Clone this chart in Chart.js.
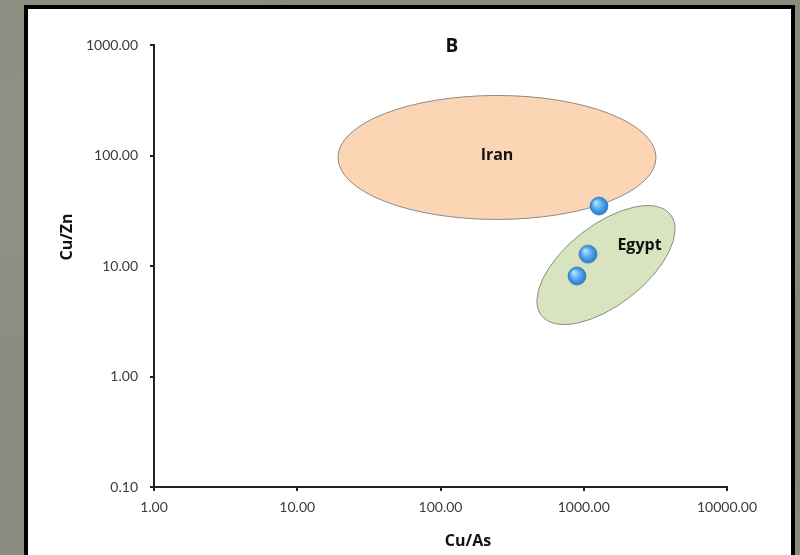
<!DOCTYPE html>
<html>
<head>
<meta charset="utf-8">
<script src="https://cdn.jsdelivr.net/npm/chart.js@4"></script>
<style>
  html, body {
    margin: 0;
    padding: 0;
    width: 800px;
    height: 555px;
    overflow: hidden;
    background: #898c7e;
  }
  .backdrop {
    position: absolute;
    left: 0;
    top: 0;
    width: 800px;
    height: 555px;
    background:
      radial-gradient(ellipse at 10% 30%, rgba(255,255,255,0.06), transparent 40%),
      radial-gradient(ellipse at 95% 70%, rgba(0,0,0,0.05), transparent 35%),
      #898c7e;
  }
  .panel {
    position: absolute;
    left: 24px;
    top: 5px;
    width: 763px;
    height: 600px;
    background: #fff;
    border: 4px solid #000;
  }
  #mychart {
    position: absolute;
    left: 0;
    top: 0;
  }
</style>
</head>
<body>
<div class="backdrop"></div>
<div class="panel"></div>
<canvas id="mychart" width="800" height="555"></canvas>
<script>
// samples: Cu/As against Cu/Zn
const cuAs = [1277, 1071, 897];
const cuZn = [34.9, 12.8, 8.12];

// decade ticks on both log axes
const xTicks = [1, 10, 100, 1000, 10000];
const yTicks = [0.1, 1, 10, 100, 1000];

// provenance fields: centre (data units), half axes in decades, tilt in degrees
const regionNames = ["Iran", "Egypt"];
const regionCentreX = [248, 1430];
const regionCentreY = [96, 10.2];
const regionHalfX = [1.11, 0.572];
const regionHalfY = [0.561, 0.362];
const regionTilt = [0, -38];
const regionLabelX = [248, 2450];
const regionLabelY = [100, 15.2];
const regionFill = ["#fcd5b5", "#d7e4bd"];

const FONT = "Lato, 'Open Sans', sans-serif";
const BOLD = "'Open Sans', 'Noto Sans', sans-serif";

// one shaded blue bead, reused as the point style
function make_bead(r) {
  const c = document.createElement("canvas");
  const s = r * 2 + 4;
  c.width = s;
  c.height = s;
  const g = c.getContext("2d");
  const cx = s / 2;
  const grad = g.createRadialGradient(cx - r * 0.35, cx - r * 0.4, r * 0.1, cx, cx, r);
  grad.addColorStop(0, "#b3e0ff");
  grad.addColorStop(0.5, "#52acf0");
  grad.addColorStop(1, "#2a7acb");
  g.beginPath();
  g.arc(cx, cx, r, 0, Math.PI * 2);
  g.fillStyle = grad;
  g.fill();
  g.lineWidth = 0.8;
  g.strokeStyle = "rgba(40,100,170,0.7)";
  g.stroke();
  return c;
}

const regionsPlugin = {
  id: "regions",
  beforeDatasetsDraw(chart) {
    const ctx = chart.ctx;
    const x = chart.scales.x;
    const y = chart.scales.y;
    const dx = x.getPixelForValue(10) - x.getPixelForValue(1);
    const dy = y.getPixelForValue(1) - y.getPixelForValue(10);
    ctx.save();
    regionNames.forEach((name, i) => {
      const px = x.getPixelForValue(regionCentreX[i]);
      const py = y.getPixelForValue(regionCentreY[i]);
      ctx.beginPath();
      ctx.ellipse(px, py, regionHalfX[i] * dx, regionHalfY[i] * dy, regionTilt[i] * Math.PI / 180, 0, Math.PI * 2);
      ctx.fillStyle = regionFill[i];
      ctx.fill();
      ctx.lineWidth = 1;
      ctx.strokeStyle = "#8a8a8a";
      ctx.stroke();
    });
    regionNames.forEach((name, i) => {
      ctx.font = "bold 16px " + BOLD;
      ctx.fillStyle = "#111";
      ctx.textAlign = "center";
      ctx.textBaseline = "middle";
      ctx.fillText(name, x.getPixelForValue(regionLabelX[i]), y.getPixelForValue(regionLabelY[i]));
    });
    ctx.restore();
  },
  afterDraw(chart) {
    const ctx = chart.ctx;
    const a = chart.chartArea;
    ctx.save();
    ctx.fillStyle = "#111";
    ctx.textAlign = "center";
    ctx.textBaseline = "middle";
    ctx.font = "bold 19px " + BOLD;
    ctx.fillText("B", a.left + 298, a.top + 2);
    ctx.font = "bold 16px " + BOLD;
    ctx.fillText("Cu/As", a.left + 314, a.bottom + 54);
    ctx.translate(67, a.top + 192);
    ctx.rotate(-Math.PI / 2);
    ctx.fillText("Cu/Zn", 0, 0);
    ctx.restore();
  },
};

const tickFont = { family: FONT, size: 14 };

const myChart = new Chart(document.querySelector("#mychart"), {
  type: "scatter",
  data: {
    datasets: [
      {
        label: "samples",
        data: cuAs.map((v, i) => ({ x: v, y: cuZn[i] })),
        pointStyle: make_bead(9),
        pointRadius: 9,
        pointHoverRadius: 9,
      },
    ],
  },
  options: {
    responsive: false,
    animation: false,
    events: [],
    layout: {
      padding: { left: 0, top: 45, right: 73, bottom: 0 },
    },
    plugins: {
      legend: { display: false },
      tooltip: { enabled: false },
    },
    scales: {
      x: {
        type: "logarithmic",
        min: 1,
        max: 10000,
        afterBuildTicks: (s) => {
          s.ticks = xTicks.map((v) => ({ value: v }));
        },
        afterFit: (s) => {
          s.height = 68;
        },
        ticks: {
          autoSkip: false,
          maxRotation: 0,
          padding: 8,
          color: "#3c3c3c",
          font: tickFont,
          callback: (v) => Number(v).toFixed(2),
        },
        grid: {
          drawOnChartArea: false,
          drawTicks: true,
          tickLength: 4,
          color: "#222",
          lineWidth: 2,
        },
        border: { color: "#222", width: 2 },
      },
      y: {
        type: "logarithmic",
        min: 0.1,
        max: 1000,
        afterBuildTicks: (s) => {
          s.ticks = yTicks.map((v) => ({ value: v }));
        },
        afterFit: (s) => {
          s.width = 154;
        },
        ticks: {
          autoSkip: false,
          padding: 12,
          color: "#3c3c3c",
          font: tickFont,
          callback: (v) => Number(v).toFixed(2),
        },
        grid: {
          drawOnChartArea: false,
          drawTicks: true,
          tickLength: 4,
          color: "#222",
          lineWidth: 2,
        },
        border: { color: "#222", width: 2 },
      },
    },
  },
  plugins: [regionsPlugin],
});
</script>
</body>
</html>
